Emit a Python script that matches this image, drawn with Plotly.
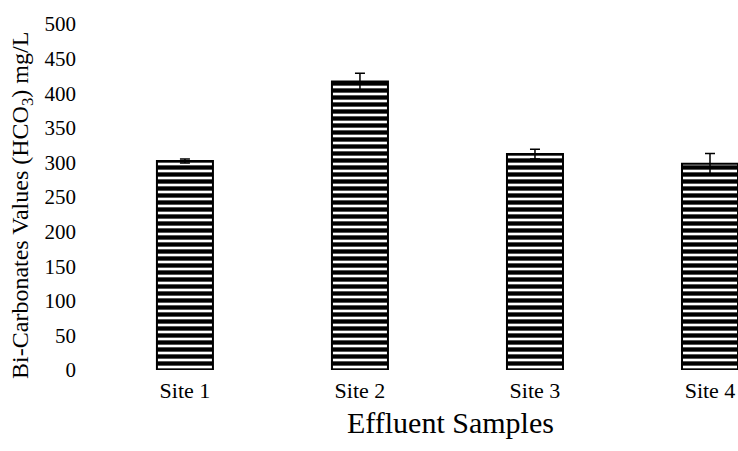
import plotly.graph_objects as go

sites = ["Site 1", "Site 2", "Site 3", "Site 4"]
bicarbonate = [302, 417, 312, 298]
errors = [3, 12, 7, 15]
y_ticks = [0, 50, 100, 150, 200, 250, 300, 350, 400, 450, 500]

FONT = "Liberation Serif, Times New Roman, serif"

fig = go.Figure()
fig.add_trace(go.Bar(
    x=sites,
    y=bicarbonate,
    width=0.32,
    marker=dict(
        color="white",
        line=dict(color="black", width=2),
        pattern=dict(shape="-", fgcolor="black", bgcolor="white", fgopacity=1,
                     size=7, solidity=0.62),
    ),
    error_y=dict(type="data", array=errors, visible=True, color="black", thickness=1.5, width=5),
    showlegend=False,
))

fig.update_layout(
    width=738, height=451,
    margin=dict(l=85, r=0, t=24, b=81, autoexpand=False),
    paper_bgcolor="white", plot_bgcolor="white",
    font=dict(family=FONT, color="black", size=20),
    xaxis=dict(
        type="category", range=[-0.571, 3.16], automargin=False,
        showline=False, showgrid=False, zeroline=False, ticks="",
        tickfont=dict(size=22), ticklabelstandoff=5,
    ),
    yaxis=dict(
        range=[0, 500], tickvals=y_ticks, automargin=False,
        showline=False, showgrid=False, zeroline=False, ticks="",
        tickfont=dict(size=21), ticklabelstandoff=8,
    ),
    annotations=[
        dict(
            text="Effluent Samples", xref="paper", yref="paper",
            x=0.559, y=-0.098, xanchor="center", yanchor="top",
            showarrow=False, font=dict(size=30),
        ),
        dict(
            text="Bi-Carbonates Values (HCO<sub>3</sub>) mg/L", xref="paper", yref="paper",
            x=-0.0965, y=0.477, xanchor="center", yanchor="middle", textangle=-90,
            showarrow=False, font=dict(size=24),
        ),
    ],
)

fig.write_html(
    "out.html",
    config={"displayModeBar": False, "staticPlot": True},
    post_script="document.body.style.margin='0';document.body.style.overflow='hidden';",
)
